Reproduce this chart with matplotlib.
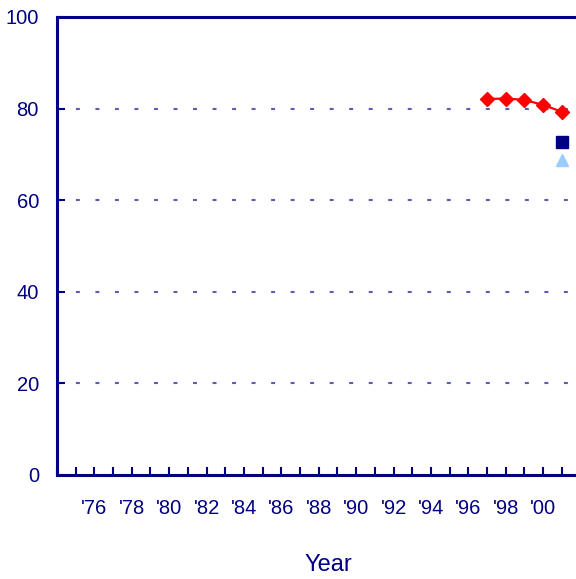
import matplotlib.pyplot as plt
from matplotlib.ticker import MultipleLocator

# data
years_red = [1997, 1998, 1999, 2000, 2001]
values_red = [82.1, 82.2, 81.9, 80.8, 79.3]
years_square = [2001]
values_square = [72.6]
years_triangle = [2001]
values_triangle = [68.7]
tick_years = list(range(1976, 2002, 2))
tick_labels = ["'" + str(y)[2:] for y in tick_years]

navy = '#000080'
plt.rcParams['font.family'] = ['Liberation Sans', 'DejaVu Sans']

fig = plt.figure(figsize=(5.76, 5.79), dpi=100)
ax = fig.add_axes([57 / 576, 1 - 475 / 579, 1 - 57 / 576, (475 - 17) / 579])

ax.plot(years_red, values_red, color='#ff0000', lw=1.6, marker='D', ms=7.5,
        mec='#ff0000', mfc='#ff0000', zorder=4, clip_on=False)
ax.plot(years_square, values_square, ls='none', marker='s', ms=8, color=navy,
        zorder=4, clip_on=False)
ax.plot(years_triangle, values_triangle, ls='none', marker='^', ms=9,
        color='#99ccff', zorder=4, clip_on=False)

ax.set_xlim(1974, 1974 + (576 - 57) / 18.7)
ax.set_ylim(0, 100)

ax.set_xticks(tick_years)
ax.set_xticklabels(tick_labels)
ax.xaxis.set_minor_locator(MultipleLocator(1))
ax.set_yticks([0, 20, 40, 60, 80, 100])

ax.tick_params(axis='x', which='both', direction='in', length=6, width=1.5,
               color=navy, labelcolor=navy, labelsize=14.5, pad=17)
ax.tick_params(axis='y', direction='in', length=6, width=1.5, color=navy,
               labelcolor=navy, labelsize=14.5, pad=13)

for s in ['left', 'bottom', 'top']:
    ax.spines[s].set_color(navy)
    ax.spines[s].set_linewidth(2.2)
ax.spines['right'].set_visible(False)

# dashed grid lines
for y in [20, 40, 60, 80]:
    ax.axhline(y, color='#5c5cb0', lw=1.5, ls=(0.3, (1.9, 7.47)), zorder=1)

fig.text(328 / 576, 1 - 565 / 579, 'Year', color=navy, fontsize=17,
         ha='center', va='center')

fig.savefig('out.png', dpi=100)
